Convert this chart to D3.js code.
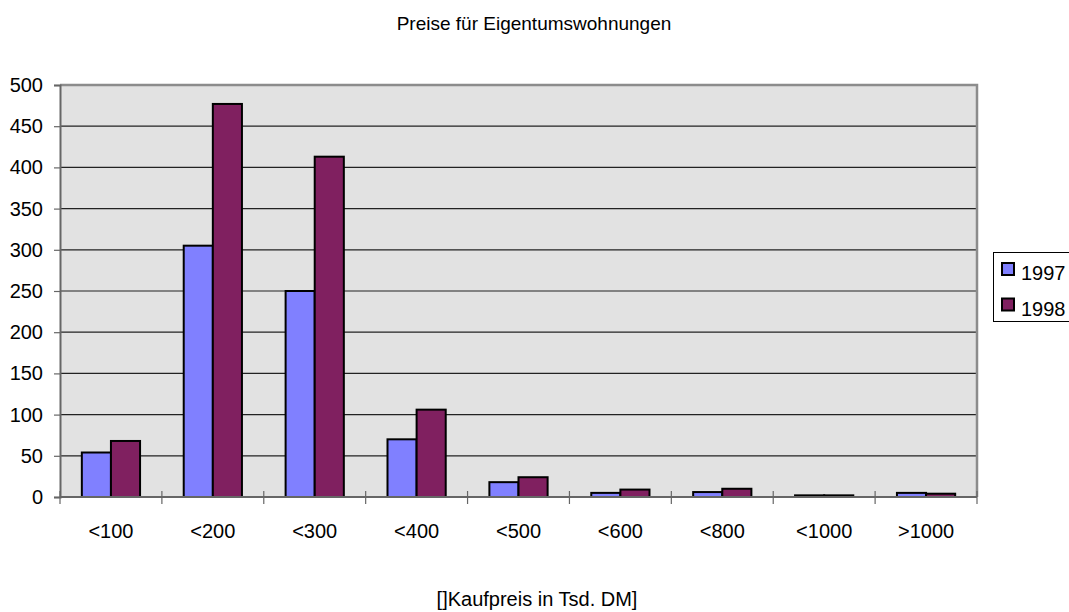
<!DOCTYPE html>
<html>
<head>
<meta charset="utf-8">
<script src="https://cdn.jsdelivr.net/npm/d3@7/dist/d3.min.js"></script>
<style>
  body { margin: 0; background: #fff; }
  svg { display: block; font-family: "Liberation Sans", Arial, sans-serif; }
</style>
</head>
<body>
<svg id="chart" width="1069" height="612"></svg>
<script>
// Price classes (thousand DM) and number of sales per year
const categories = ["<100", "<200", "<300", "<400", "<500", "<600", "<800", "<1000", ">1000"];
const seriesNames = ["1997", "1998"];
const values1997 = [54, 305, 250, 70, 18, 5, 6, 2, 5];
const values1998 = [68, 477, 413, 106, 24, 9, 10, 2, 4];
const yTicks = [0, 50, 100, 150, 200, 250, 300, 350, 400, 450, 500];
const colors = ["#8080FF", "#802060"];

const svg = d3.select("#chart");
const plot = { left: 60, right: 977, top: 85, bottom: 497 };

const x = d3.scaleBand().domain(categories).range([plot.left, plot.right]);
const y = d3.scaleLinear().domain([0, 500]).range([plot.bottom, plot.top]);
const sub = d3.scaleBand().domain(seriesNames)
  .range([0, x.bandwidth()]).paddingOuter(0.75).paddingInner(0);

// Plot background
svg.append("rect")
  .attr("x", plot.left).attr("y", plot.top)
  .attr("width", plot.right - plot.left).attr("height", plot.bottom - plot.top)
  .attr("fill", "#E2E2E2");

// Horizontal gridlines
svg.append("g").selectAll("line")
  .data(yTicks.filter(d => d > 0 && d < 500))
  .join("line")
  .attr("x1", plot.left).attr("x2", plot.right)
  .attr("y1", d => y(d)).attr("y2", d => y(d))
  .attr("stroke", "#222").attr("stroke-width", 1.2);

// Bars
const rows = categories.map((c, i) => ({ c, v: [values1997[i], values1998[i]] }));
const groups = svg.append("g").selectAll("g").data(rows).join("g")
  .attr("transform", d => `translate(${x(d.c)},0)`);
groups.selectAll("rect")
  .data(d => d.v.map((v, k) => ({ k, v })))
  .join("rect")
  .attr("x", d => sub(seriesNames[d.k]))
  .attr("width", sub.bandwidth())
  .attr("y", d => y(d.v))
  .attr("height", d => y(0) - y(d.v))
  .attr("fill", d => colors[d.k])
  .attr("stroke", "#000").attr("stroke-width", 2);

// Plot frame: top and right in grey
svg.append("path")
  .attr("d", `M${plot.left},${plot.top}H${plot.right}V${plot.bottom}`)
  .attr("fill", "none").attr("stroke", "#8C8C8C").attr("stroke-width", 2.5);

// Y axis
const yAxis = svg.append("g").attr("transform", `translate(${plot.left},0)`)
  .call(d3.axisLeft(y).tickValues(yTicks).tickSize(6).tickPadding(11));
yAxis.select(".domain").attr("stroke", "#666").attr("stroke-width", 2);
yAxis.selectAll(".tick line").attr("stroke", "#666").attr("stroke-width", 1.2);
yAxis.selectAll("text").attr("font-size", 20).attr("fill", "#000")
  .attr("font-family", "Liberation Sans, Arial, sans-serif");

// X axis with ticks at category boundaries
const xAxis = svg.append("g").attr("transform", `translate(0,${plot.bottom})`);
xAxis.append("line").attr("x1", plot.left).attr("x2", plot.right)
  .attr("stroke", "#666").attr("stroke-width", 2);
const bounds = categories.map(c => x(c)).concat([plot.right]);
xAxis.selectAll("line.b").data(bounds).join("line").attr("class", "b")
  .attr("x1", d => d).attr("x2", d => d).attr("y1", -6).attr("y2", 7)
  .attr("stroke", "#666").attr("stroke-width", 1.2);
xAxis.selectAll("text").data(categories).join("text")
  .attr("x", d => x(d) + x.bandwidth() / 2).attr("y", 41)
  .attr("text-anchor", "middle").attr("font-size", 20).attr("fill", "#000")
  .text(d => d);

// Titles
svg.append("text").attr("x", 534).attr("y", 30).attr("text-anchor", "middle")
  .attr("font-size", 19).text("Preise für Eigentumswohnungen");
svg.append("text").attr("x", 537).attr("y", 606).attr("text-anchor", "middle")
  .attr("font-size", 20).text("[]Kaufpreis in Tsd. DM]");

// Legend
const legend = svg.append("g");
legend.append("rect").attr("x", 993.5).attr("y", 252.5).attr("width", 90).attr("height", 69)
  .attr("fill", "#fff").attr("stroke", "#000").attr("stroke-width", 1);
seriesNames.forEach((s, i) => {
  const ly = 263 + i * 35.5;
  legend.append("rect").attr("x", 1002).attr("y", ly).attr("width", 12).attr("height", 12)
    .attr("fill", colors[i]).attr("stroke", "#000").attr("stroke-width", 2);
  legend.append("text").attr("x", 1021).attr("y", ly + 17).attr("font-size", 20).text(s);
});
</script>
</body>
</html>
